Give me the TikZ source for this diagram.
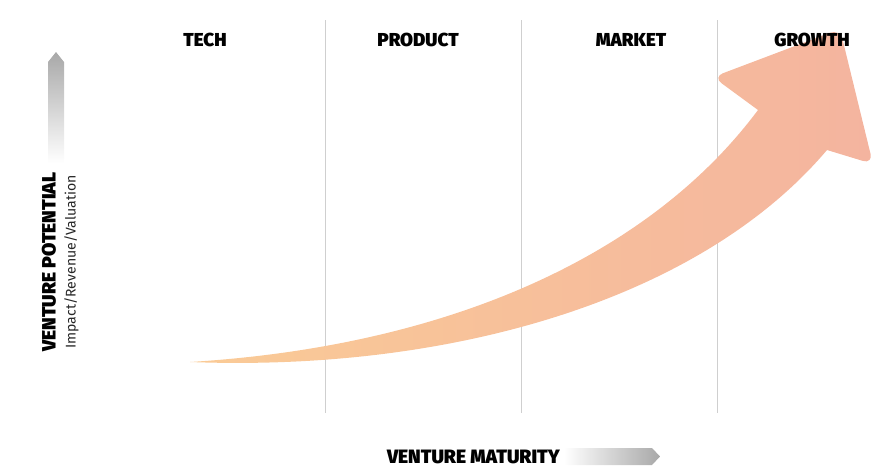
\documentclass[tikz,border=0pt]{standalone}
\usepackage{fontspec}
\setmainfont{Fira Sans}
\newfontfamily\heavyfont{Fira Sans Black}
\usetikzlibrary{positioning}

\begin{document}
\begin{tikzpicture}[x=0.03cm, y=-0.03cm]

% ---------------------------------------------------------------- colours
\definecolor{tailcolor}{HTML}{FACB96}   % the young venture
\definecolor{headcolor}{HTML}{F4B49F}   % the grown one
\definecolor{gridcolor}{HTML}{CFCFCF}
\definecolor{cuecolor}{HTML}{A8A8A8}    % the grey axis cues

\tikzset{
    stage/.style={font=\fontsize{16}{18}\selectfont\heavyfont, text=black},
    axistitle/.style={font=\fontsize{16.5}{18}\selectfont\heavyfont, text=black},
    axissub/.style={font=\fontsize{12}{14}\selectfont, text=black!85},
    divider/.style={gridcolor, line width=0.6pt},
}

\useasboundingbox (0,0) rectangle (883,473);

% ================================================================
% pixel grid: x right, y down, 883 x 473
%   dividers   x = 325, 521, 717
%   stage row  y = 40
% ================================================================

% ---------------------------------------------------------------- dividers
\foreach \x in {325, 521, 717}
    \draw[divider] (\x, 20) -- (\x, 413);

% ---------------------------------------------------------------- the growth arrow
\path[left color=tailcolor, right color=headcolor]
    (190, 362) .. controls (450, 346) and (650, 255) .. (758, 110)
    [rounded corners=9pt] -- (713, 77) -- (840, 29) -- (873, 164)
    [sharp corners] -- (827, 150)
    .. controls (700, 300) and (450, 372) .. (190, 362) -- cycle;

% ---------------------------------------------------------------- stages
\node[stage] (tech)    at (205, 40) {TECH};
\node[stage] (product) at (418, 40) {PRODUCT};
\node[stage] (market)  at (631, 40) {MARKET};
\node[stage] (growth)  at (812, 40) {GROWTH};

% ---------------------------------------------------------------- vertical axis
\path[top color=cuecolor, bottom color=white]
    (56, 52) -- (64, 62) -- (64, 163) -- (48, 163) -- (48, 62) -- cycle;
\node[axistitle, rotate=90] (potential) at (49, 262) {VENTURE POTENTIAL};
\node[axissub, rotate=90, right=0pt of potential.south, anchor=north]
    (impact) {Impact/Revenue/Valuation};

% ---------------------------------------------------------------- horizontal axis
\node[axistitle, anchor=east] (maturity) at (564, 457) {VENTURE MATURITY};
\path[left color=white, right color=cuecolor]
    (maturity.east |- 0, 448) -- (652, 448) -- (660, 456.5)
    -- (652, 465) -- (maturity.east |- 0, 465) -- cycle;

\end{tikzpicture}
\end{document}
